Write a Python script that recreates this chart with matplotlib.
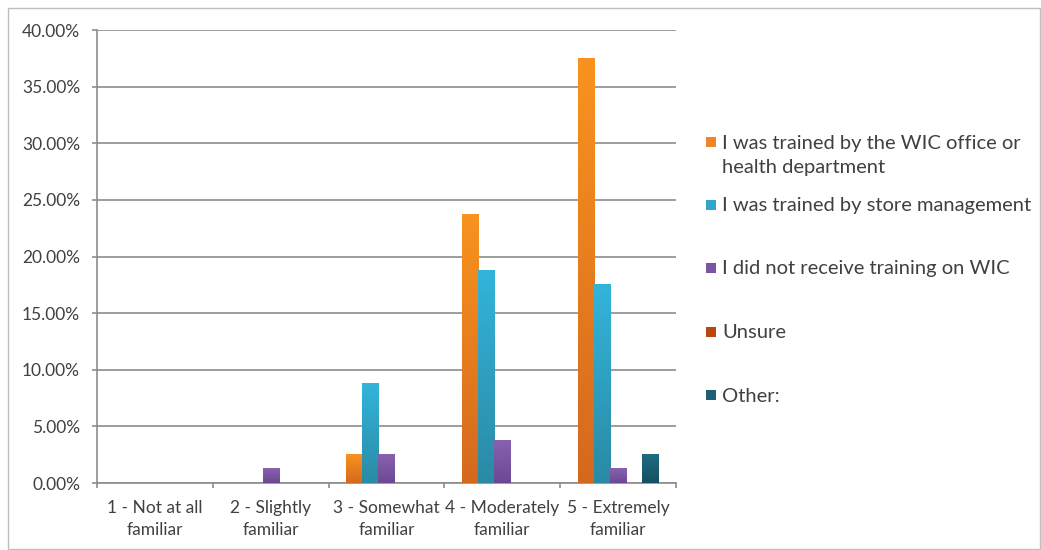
import matplotlib

matplotlib.use("Agg")

import matplotlib.pyplot as plt
import numpy as np
from matplotlib.colors import to_rgb
from matplotlib.patches import Rectangle
from matplotlib.ticker import FuncFormatter, MultipleLocator

categories = [
    "1 - Not at all\nfamiliar",
    "2 - Slightly\nfamiliar",
    "3 - Somewhat\nfamiliar",
    "4 - Moderately\nfamiliar",
    "5 - Extremely\nfamiliar",
]
series_names = [
    "I was trained by the WIC office or\nhealth department",
    "I was trained by store management",
    "I did not receive training on WIC",
    "Unsure",
    "Other:",
]
wic_office = [0.0, 0.0, 2.5, 23.75, 37.5]
store_mgmt = [0.0, 0.0, 8.75, 18.75, 17.5]
no_training = [0.0, 1.25, 2.5, 3.75, 1.25]
unsure = [0.0, 0.0, 0.0, 0.0, 0.0]
other = [0.0, 0.0, 0.0, 0.0, 2.5]

values = [wic_office, store_mgmt, no_training, unsure, other]
# (top, bottom) colours of the Excel-style gradient fill
colors_top = ["#F8931F", "#33B4DA", "#8862B0", "#C9500F", "#1F6C82"]
colors_bottom = ["#D4691E", "#2A8AA4", "#6C4892", "#A8400C", "#165062"]
legend_colors = ["#F0842A", "#30A6C8", "#7B55A3", "#B8470F", "#1D5F73"]

plt.rcParams["font.family"] = ["Lato", "DejaVu Sans"]
text_color = "#404040"
grid_color = "#8C8C8C"

fig = plt.figure(figsize=(10.41, 5.5), dpi=100)
ax = fig.add_axes([0.0932, 0.1218, 0.5562, 0.8236])
ax.set_xlim(-0.5, len(categories) - 0.5)
ax.set_ylim(0, 40)
ax.set_autoscale_on(False)

n = len(values)
width = 1 / 7.19
x = np.arange(len(categories))
ramp = np.linspace(0, 1, 128)[:, None, None]
for i, vals in enumerate(values):
    offset = (i - (n - 1) / 2) * width
    bars = ax.bar(x + offset, vals, width=width, color="none", zorder=3)
    top = np.array(to_rgb(colors_top[i]))
    bottom = np.array(to_rgb(colors_bottom[i]))
    grad = top * (1 - ramp) + bottom * ramp
    for b in bars:
        if b.get_height() <= 0:
            continue
        x0 = b.get_x()
        ax.imshow(grad, extent=[x0, x0 + b.get_width(), 0, b.get_height()],
                  aspect="auto", origin="upper", zorder=3, interpolation="bilinear")

ax.set_xlim(-0.5, len(categories) - 0.5)
ax.set_ylim(0, 40)
ax.yaxis.set_major_locator(MultipleLocator(5))
ax.yaxis.set_major_formatter(FuncFormatter(lambda v, _: f"{v:.2f}%"))
ax.grid(axis="y", color=grid_color, linewidth=1.2, zorder=0)

ax.set_xticks(x)
ax.set_xticklabels(categories, fontsize=12.5, color=text_color, linespacing=1.45)
ax.set_xticks(np.arange(-0.5, len(categories)), minor=True)
ax.tick_params(axis="x", which="major", length=0, pad=12)
ax.tick_params(axis="x", which="minor", length=3.6, color=grid_color, width=1.2)
ax.tick_params(axis="y", length=3.6, color=grid_color, width=1.2, labelsize=12.5,
               labelcolor=text_color, pad=8.6)

for side in ["top", "right"]:
    ax.spines[side].set_visible(False)
for side in ["left", "bottom"]:
    ax.spines[side].set_color(grid_color)
    ax.spines[side].set_linewidth(1.2)

# legend drawn by hand to follow the spread-out layout
legend_y = [142, 205, 268, 332, 395]
for name, color, yp in zip(series_names, legend_colors, legend_y):
    fy = 1 - yp / 550
    fig.patches.append(Rectangle((706 / 1041, fy - 5 / 550), 10 / 1041, 10 / 550,
                                 transform=fig.transFigure, facecolor=color,
                                 edgecolor="none"))
    for k, line in enumerate(name.split("\n")):
        fig.text(722 / 1041, 1 - (yp + 1 + 25 * k) / 550, line, fontsize=14.5,
                 color=text_color, va="center", ha="left")

fig.patches.append(Rectangle((8 / 1041, 1 / 550), 1032 / 1041, 541 / 550,
                             transform=fig.transFigure, facecolor="none",
                             edgecolor="#BFBFBF", linewidth=1))

fig.savefig("out.png", dpi=100)
